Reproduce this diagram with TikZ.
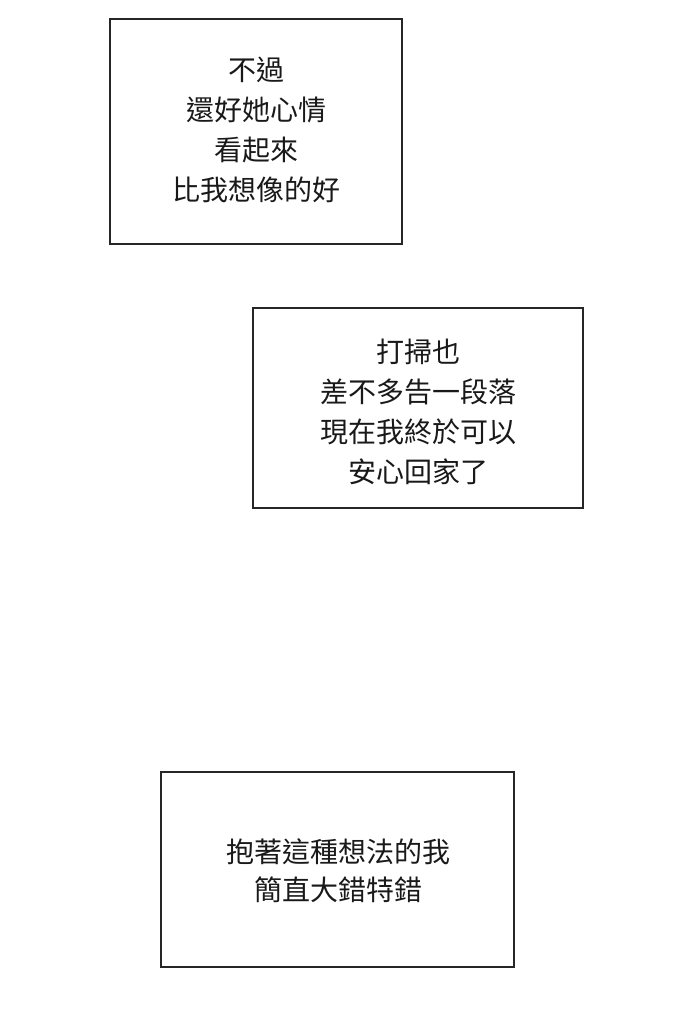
\documentclass[tikz,border=0pt]{standalone}
\usepackage{fontspec}
\newfontfamily\cjk{Noto Sans CJK TC}
\tikzset{box/.style={draw=black!85,line width=1.3pt},
 txt/.style={font=\cjk\fontsize{28}{40}\selectfont,align=center,text=black!90}}
\begin{document}
\begin{tikzpicture}[x=1pt,y=-1pt]
\useasboundingbox[fill=white] (0,0) rectangle (680,1033);
\draw[box] (110,19) rectangle (402,244);
\node[txt] (t1) at (256,130) {不過\\還好她心情\\看起來\\比我想像的好};
\draw[box] (253,308) rectangle (583,508);
\node[txt] (t2) at (418,412) {打掃也\\差不多告一段落\\現在我終於可以\\安心回家了};
\draw[box] (161,772) rectangle (514,967);
\node[txt,font=\cjk\fontsize{28}{38}\selectfont] (t3) at (338,871) {抱著這種想法的我\\簡直大錯特錯};
\end{tikzpicture}
\end{document}
